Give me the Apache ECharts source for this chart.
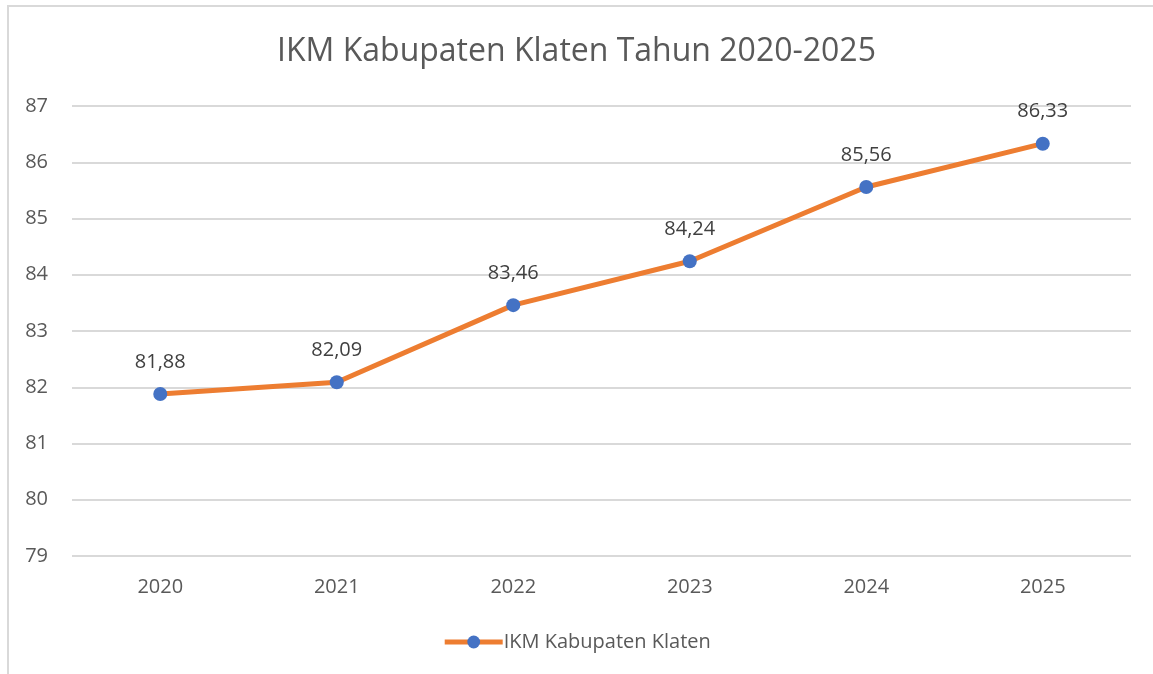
<!DOCTYPE html>
<html>
<head>
<meta charset="utf-8">
<script src="https://cdn.jsdelivr.net/npm/echarts@6/dist/echarts.min.js"></script>
<style>
  html, body { margin: 0; padding: 0; background: #fff; }
  #chart { width: 1153px; height: 674px; }
</style>
</head>
<body>
<div id="chart"></div>
<script>
// data
const years = ['2020', '2021', '2022', '2023', '2024', '2025'];
const ikmValues = [81.88, 82.09, 83.46, 84.24, 85.56, 86.33];
const seriesName = 'IKM Kabupaten Klaten';

const FONT = 'Open Sans';

const chart = echarts.init(document.getElementById('chart'));

const option = {
	backgroundColor: '#fff',
	textStyle: { fontFamily: FONT },
	title: {
		text: 'IKM Kabupaten Klaten Tahun 2020-2025',
		left: 'center',
		top: 31,
		textStyle: { fontFamily: FONT, fontSize: 32, fontWeight: 'normal', color: '#595959' }
	},
	graphic: [{
		type: 'rect',
		shape: { x: 8, y: 6, width: 1200, height: 700 },
		style: { fill: 'none', stroke: '#d9d9d9', lineWidth: 2 },
		silent: true
	}],
	legend: {
		bottom: 17,
		left: 'center',
		itemWidth: 58,
		itemHeight: 16,
		itemGap: 0,
		lineStyle: { width: 5 },
		textStyle: { fontFamily: FONT, fontSize: 20, color: '#595959', padding: [0, 0, 0, -4] },
		data: [{ name: seriesName }]
	},
	grid: { left: 72, right: 22, top: 106, bottom: 118 },
	xAxis: {
		type: 'category',
		data: years,
		boundaryGap: true,
		axisLine: { show: false },
		axisTick: { show: false },
		axisLabel: { fontSize: 20, color: '#595959', margin: 21 }
	},
	yAxis: {
		type: 'value',
		min: 79,
		max: 87,
		interval: 1,
		axisLine: { show: false },
		axisTick: { show: false },
		axisLabel: { fontSize: 20, color: '#595959', margin: 24, align: 'right' },
		splitLine: { lineStyle: { color: '#d9d9d9', width: 2 } }
	},
	series: [{
		name: seriesName,
		type: 'line',
		data: ikmValues,
		symbol: 'circle',
		symbolSize: 14,
		lineStyle: { color: '#ED7D31', width: 5 },
		itemStyle: { color: '#4472C4' },
		label: {
			show: true,
			position: 'top',
			distance: 15,
			fontSize: 20,
			color: '#404040',
			formatter: p => p.value.toFixed(2).replace('.', ',')
		}
	}]
};

chart.setOption(option);
</script>
</body>
</html>
